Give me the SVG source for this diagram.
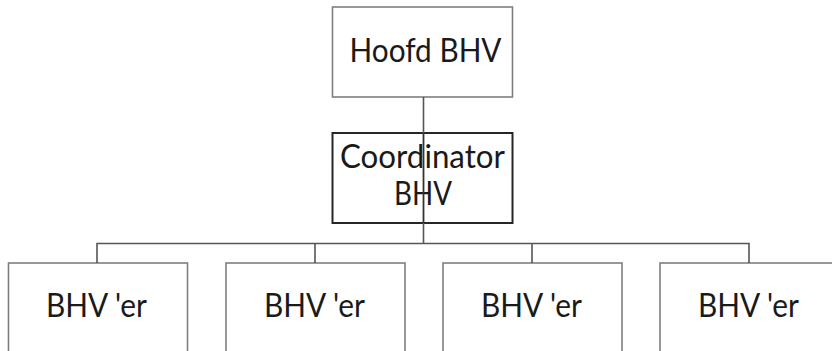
<svg xmlns="http://www.w3.org/2000/svg" width="832" height="351" viewBox="0 0 832 351">
<style>
.box{fill:#fff;stroke:#7f7f7f;stroke-width:1.6}
.coord{fill:#fff;stroke:#262626;stroke-width:2}
.lbl{font-family:Lato,"Liberation Sans",sans-serif;font-size:32px;fill:#1a1a1a;text-anchor:middle}
.conn{fill:none;stroke:#555;stroke-width:1.6}
.conn2{fill:none;stroke:#333;stroke-width:1.8}
</style>
<rect width="832" height="351" fill="#fff"/>
<g id="hoofd">
<rect class="box" x="332.5" y="7" width="180" height="90"/>
<text class="lbl" x="425.5" y="62" textLength="152" lengthAdjust="spacingAndGlyphs">Hoofd BHV</text>
</g>
<g id="coordinator">
<rect class="coord" x="332.5" y="133" width="180" height="90"/>
<text class="lbl" x="422.5" y="168" textLength="165" lengthAdjust="spacingAndGlyphs">Coordinator</text>
<text class="lbl" x="423" y="205" textLength="58" lengthAdjust="spacingAndGlyphs">BHV</text>
</g>
<g id="bhv1">
<rect class="box" x="8.5" y="263" width="179" height="92"/>
<text class="lbl" x="96.5" y="317" textLength="101" lengthAdjust="spacingAndGlyphs">BHV 'er</text>
</g>
<g id="bhv2">
<rect class="box" x="226" y="263" width="179" height="92"/>
<text class="lbl" x="314.5" y="317" textLength="101" lengthAdjust="spacingAndGlyphs">BHV 'er</text>
</g>
<g id="bhv3">
<rect class="box" x="443" y="263" width="179" height="92"/>
<text class="lbl" x="531.5" y="317" textLength="101" lengthAdjust="spacingAndGlyphs">BHV 'er</text>
</g>
<g id="bhv4">
<rect class="box" x="660" y="263" width="179" height="92"/>
<text class="lbl" x="748.5" y="317" textLength="101" lengthAdjust="spacingAndGlyphs">BHV 'er</text>
</g>
<g id="connectors">
<path class="conn" d="M423.5 97V133"/>
<path class="conn2" d="M423.5 133V223"/>
<path class="conn" d="M423.5 223V243.5"/>
<path class="conn" d="M97 263V243.5H749V263M315 243.5V263M532 243.5V263"/>
</g>
</svg>
